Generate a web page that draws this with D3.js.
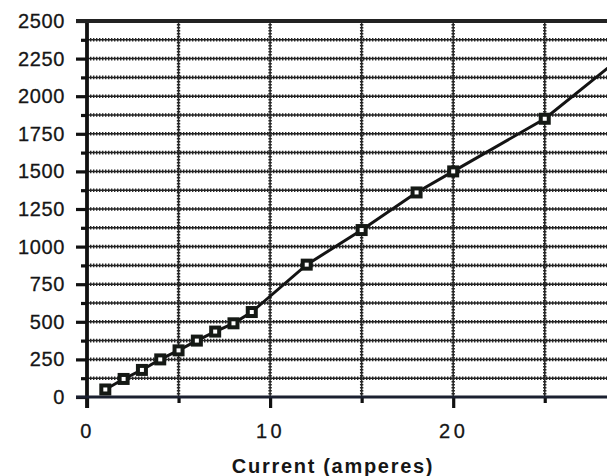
<!DOCTYPE html>
<html>
<head>
<meta charset="utf-8">
<title>Current chart</title>
<script src="https://cdn.jsdelivr.net/npm/d3@7"></script>
<style>
    body { margin: 0; background: #fff; }
    .tickLabel { font-family: "Liberation Sans", Arial, sans-serif; font-size: 20px; fill: #161616; stroke: #161616; stroke-width: 0.3px; }
    .grid line { stroke: #262626; }
    .axisTitle { font-family: "Liberation Sans", Arial, sans-serif; font-size: 20px; font-weight: bold; fill: #161616; letter-spacing: 1.7px; }
</style>
</head>
<body>
<script>
    // data
    const current = [1, 2, 3, 4, 5, 6, 7, 8, 9, 12, 15, 18, 20, 25];
    const reading = [50, 120, 180, 250, 310, 375, 435, 490, 565, 880, 1110, 1360, 1500, 1850];
    // the drawn line carries on past the last marker, off the right edge
    const tailCurrent = [30];
    const tailReading = [2340];

    const yMajor = [0, 250, 500, 750, 1000, 1250, 1500, 1750, 2000, 2250, 2500];
    const yMinor = [125, 375, 625, 875, 1125, 1375, 1625, 1875, 2125, 2375];
    const xMajor = [0, 10, 20];
    const xMinor = [5, 15, 25];
    const xTitle = "Current (amperes)";

    const W = 614, H = 476;
    const pLeft = 87, pRight = 607, pTop = 21, pBottom = 397;

    const svg = d3.select("body").append("svg").attr("width", W).attr("height", H);

    const x = d3.scaleLinear().domain([0, 28.4]).range([pLeft, pRight]);
    const y = d3.scaleLinear().domain([0, 2500]).range([pBottom, pTop]);

    svg.append("clipPath").attr("id", "plotClip")
        .append("rect").attr("x", pLeft).attr("y", pTop - 2).attr("width", pRight - pLeft).attr("height", pBottom - pTop + 4);

    // wavy-looking grid: thin solid core plus a dotted thick overlay
    function gridH(vals) {
        const g = svg.append("g").attr("class", "grid");
        g.selectAll("line.core").data(vals).enter().append("line").attr("class", "core")
            .attr("x1", pLeft).attr("x2", pRight).attr("y1", d => y(d)).attr("y2", d => y(d))
            .attr("stroke-width", 1.5);
        g.selectAll("line.dots").data(vals).enter().append("line").attr("class", "dots")
            .attr("x1", pLeft).attr("x2", pRight).attr("y1", d => y(d)).attr("y2", d => y(d))
            .attr("stroke-width", 3.6).attr("stroke-dasharray", "1.4,1.6");
    }
    function gridV(vals) {
        const g = svg.append("g").attr("class", "grid");
        g.selectAll("line.core").data(vals).enter().append("line").attr("class", "core")
            .attr("y1", pTop).attr("y2", pBottom).attr("x1", d => x(d)).attr("x2", d => x(d))
            .attr("stroke-width", 1.5);
        g.selectAll("line.dots").data(vals).enter().append("line").attr("class", "dots")
            .attr("y1", pTop).attr("y2", pBottom).attr("x1", d => x(d)).attr("x2", d => x(d))
            .attr("stroke-width", 3.4).attr("stroke-dasharray", "1.4,1.6");
    }
    gridH(yMajor.filter(d => d > 0 && d < 2500).concat(yMinor));
    gridV([5, 10, 15, 20, 25]);

    // y axis: long ticks with labels, short ticks between
    const yAxis = svg.append("g").attr("transform", `translate(${pLeft},0)`)
        .call(d3.axisLeft(y).tickValues(yMajor).tickSize(11).tickPadding(11).tickFormat(d3.format("d")));
    const yAxisMinor = svg.append("g").attr("transform", `translate(${pLeft},0)`)
        .call(d3.axisLeft(y).tickValues(yMinor).tickSize(6).tickFormat(""));

    // x axis: long ticks at labelled values, short ticks between
    const xAxis = svg.append("g").attr("transform", `translate(0,${pBottom})`)
        .call(d3.axisBottom(x).tickValues(xMajor).tickSize(11).tickPadding(12).tickFormat(d3.format("d")));
    const xAxisMinor = svg.append("g").attr("transform", `translate(0,${pBottom})`)
        .call(d3.axisBottom(x).tickValues(xMinor).tickSize(6).tickFormat(""));

    [yAxis, yAxisMinor, xAxis, xAxisMinor].forEach(a => {
        a.select(".domain").remove();
        a.selectAll(".tick line").attr("stroke", "#111").attr("stroke-width", 3.2);
    });
    yAxis.selectAll("text").attr("class", "tickLabel").attr("fill", null)
        .attr("font-size", null).attr("font-family", null).attr("letter-spacing", "0.6px");
    xAxis.selectAll("text").attr("class", "tickLabel").attr("fill", null)
        .attr("font-size", null).attr("font-family", null).attr("letter-spacing", "3.5px")
        .attr("dy", "0.9em");

    // frame: left axis, bottom axis and the solid top rule at 2500
    svg.append("line").attr("x1", pLeft).attr("x2", pLeft).attr("y1", pTop - 1).attr("y2", pBottom + 11)
        .attr("stroke", "#111").attr("stroke-width", 3.8);
    svg.append("line").attr("x1", pLeft - 11).attr("x2", pRight).attr("y1", y(2500)).attr("y2", y(2500))
        .attr("stroke", "#222").attr("stroke-width", 3.8);
    svg.append("line").attr("x1", pLeft - 11).attr("x2", pRight).attr("y1", y(0)).attr("y2", y(0))
        .attr("stroke", "#1b2030").attr("stroke-width", 3.2);

    // data line, clipped at the plot edge
    const linePts = current.map((c, i) => [c, reading[i]])
        .concat(tailCurrent.map((c, i) => [c, tailReading[i]]));
    svg.append("path")
        .attr("clip-path", "url(#plotClip)")
        .attr("d", d3.line().x(d => x(d[0])).y(d => y(d[1]))(linePts))
        .attr("fill", "none").attr("stroke", "#141414").attr("stroke-width", 3);

    // square markers
    svg.append("g").selectAll("rect")
        .data(current.map((c, i) => [c, reading[i]]))
        .enter().append("rect")
        .attr("x", d => x(d[0]) - 4).attr("y", d => y(d[1]) - 4)
        .attr("width", 8).attr("height", 8)
        .attr("fill", "#fff").attr("stroke", "#151915").attr("stroke-width", 4);

    svg.append("text").attr("class", "axisTitle")
        .attr("x", 333).attr("y", 473).attr("text-anchor", "middle")
        .text(xTitle);
</script>
</body>
</html>
